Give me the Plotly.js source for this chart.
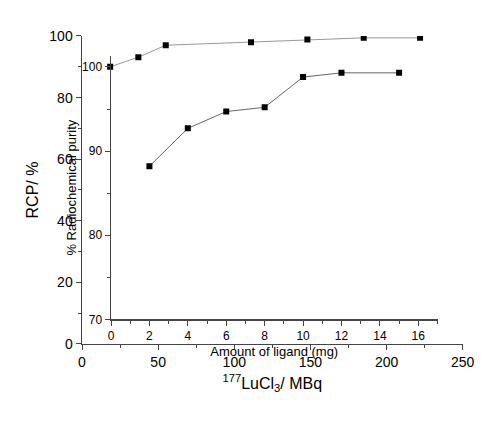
<!DOCTYPE html>
<html>
<head>
<meta charset="utf-8">
<script src="https://cdn.plot.ly/plotly-3.0.1.min.js"></script>
<style>
  html, body { margin: 0; padding: 0; background: #fff; }
  #plot { width: 500px; height: 425px; }
</style>
</head>
<body>
<div id="plot"></div>
<script>
// RCP vs activity of 177LuCl3 (outer axes)
var activityMBq = [18.5, 37, 55, 111, 148, 185, 222];
var rcpPercent = [90.0, 93.1, 97.0, 98.0, 98.9, 99.4, 99.4];

// radiochemical purity vs amount of ligand (inner axes)
var ligandMg = [2, 4, 6, 8, 10, 12, 15];
var purityPercent = [88.2, 92.7, 94.7, 95.2, 98.8, 99.3, 99.3];

var fontFam = '"Liberation Sans", Arial, sans-serif';
var axisCol = '#444';

var traceActivity = {
    x: activityMBq,
    y: rcpPercent,
    xaxis: 'x',
    yaxis: 'y',
    mode: 'lines+markers',
    line: {color: '#999', width: 1},
    marker: {symbol: 'square', size: 6, color: '#000'},
    showlegend: false
};
var traceLigand = {
    x: ligandMg,
    y: purityPercent,
    xaxis: 'x2',
    yaxis: 'y2',
    mode: 'lines+markers',
    line: {color: '#666', width: 1},
    marker: {symbol: 'square', size: 6, color: '#000'},
    showlegend: false
};

function baseAxis(extra) {
    var ax = {
        showgrid: false,
        zeroline: false,
        showline: true,
        linecolor: axisCol,
        linewidth: 1.5,
        ticks: 'outside',
        tickcolor: axisCol,
        tickwidth: 1,
        ticklen: 5,
        fixedrange: true
    };
    for (var k in extra) ax[k] = extra[k];
    return ax;
}

var layout = {
    width: 500,
    height: 425,
    margin: {l: 0, r: 0, t: 0, b: 0},
    paper_bgcolor: '#fff',
    plot_bgcolor: 'rgba(0,0,0,0)',
    font: {family: fontFam, color: '#000'},
    xaxis: baseAxis({
        domain: [0.164, 0.9254],
        range: [0, 250],
        anchor: 'y',
        dtick: 50,
        tickfont: {size: 14},
        minor: {dtick: 25, ticks: 'outside', ticklen: 3, tickcolor: axisCol},
        title: {text: '<sup>177</sup>LuCl<sub>3</sub>/ MBq', font: {size: 16}, standoff: 8}
    }),
    yaxis: baseAxis({
        domain: [0.1906, 0.9153],
        range: [0, 100],
        anchor: 'x',
        dtick: 20,
        tickfont: {size: 14},
        minor: {dtick: 10, ticks: 'outside', ticklen: 3, tickcolor: axisCol},
        title: {text: 'RCP/ %', font: {size: 16}, standoff: 6}
    }),
    xaxis2: baseAxis({
        domain: [0.222, 0.875],
        range: [0, 17],
        anchor: 'y2',
        dtick: 2,
        tickfont: {size: 12},
        minor: {dtick: 1, ticks: 'outside', ticklen: 3, tickcolor: axisCol},
        title: {text: 'Amount of ligand (mg)', font: {size: 13}, standoff: 4}
    }),
    yaxis2: baseAxis({
        domain: [0.2487, 0.8682],
        range: [70, 101.3],
        anchor: 'x2',
        dtick: 10,
        tickfont: {size: 12},
        minor: {dtick: 5, ticks: 'outside', ticklen: 3, tickcolor: axisCol},
        title: {text: '% Radiochemical purity', font: {size: 13}, standoff: 2}
    })
};

Plotly.newPlot('plot', [traceActivity, traceLigand], layout, {staticPlot: true, displayModeBar: false});
</script>
</body>
</html>
